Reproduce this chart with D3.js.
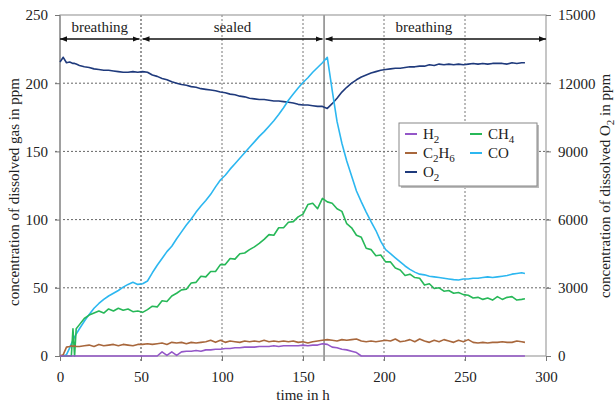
<!DOCTYPE html>
<html><head><meta charset="utf-8">
<script src="https://cdn.jsdelivr.net/npm/d3@7"></script>
<style>
body{margin:0;background:#fff}
svg{display:block}
text{font-family:"Liberation Serif","Times New Roman","DejaVu Serif",serif;fill:#222}
</style>
</head><body>
<svg id="c" width="616" height="406"></svg>
<script>
// ---------- data ----------
const hours = [0,2,4,6,7,8,9,10,
  12,15,18,21,24,27,30,33,36,39,
  42,45,48,51,54,57,60,63,66,69,
  72,75,78,81,84,87,90,93,96,99,
  102,105,108,111,114,117,120,123,126,129,
  132,135,138,141,144,147,150,153,156,159,
  162,165,168,171,174,177,180,183,186,189,
  192,195,198,201,204,207,210,213,216,219,
  222,225,228,231,234,237,240,243,246,249,
  252,255,258,261,264,267,270,273,276,279,
  282,285,287];

const co = [0,0,1,6,9,11.5,14,16,
  20,25.5,30.5,35,38.5,41.5,44,46,48,50.5,
  52.5,54,52.5,53,55,61,66.5,71.5,76.5,80.5,
  86,91,96,100.5,105.5,110,114,118.5,124,129,
  132.5,137,141,145,149,153,157,161,164.5,168.5,
  172.5,177,182,187.5,192,196.5,200.5,204,208,211.5,
  215,219,195,172,156,143,132,121,113,105.5,
  98.5,92,84,78,75,72,69,66,63.5,61.5,
  60,59.5,58.5,58,57.5,57,56.5,56,55.7,56.5,
  56.5,57,57,57.5,58,57.5,58,58.5,59,60,
  60.5,61,60.5];

const ch4 = [0,0,0,0,0,20,0,20,
  23,27.5,30,31.5,33,31.5,34.5,33,35,33.5,
  34.5,32.5,33,32,34,36.5,36,40.5,40,44,
  46,48.5,49,53.5,54,58.5,58,62,62,67,
  67,71.5,71,75,75.5,78,80,82.5,85.5,89,
  88.5,94,94,98,98.5,102,104,111,112,108,
  115.5,113,112,108,106,97,94,88.5,87,79,
  78,73.5,74,69,69,64.5,63,59,60,57.5,
  57,52,53,49.5,50,47.5,48,46,46.5,45,
  44.5,42.5,43,41.5,42.5,41,43.5,41.5,43,43.5,
  41,41.5,42];

const c2h6 = [0,1,6.5,7,7.5,7,7.5,7,
  7,7.5,8,7,8.5,7.5,8,8.5,7.5,8.5,
  8,7.5,8.5,8.5,9,8.5,9,9.5,8.5,10,
  9.5,10,9,10,9.5,10,10.5,11.5,10,11.5,
  10,11,10.5,10,11,10.5,11,10.5,11.5,10.5,
  11,10.5,11,10.5,11,10,10.5,9.5,10.5,11,
  11.5,12,11.5,11,12,11.5,12,12.5,11,10.5,
  11,10.5,11,11.5,11,12.5,10.5,11,12,10.5,
  12.5,11,10,11.5,10.5,12,11,10,11.5,10.5,
  12,10,9.5,10,9.5,10,10,10.5,10,10,
  11,10.5,10];

const h2 = [0,0,0,0,0,0,0,0,
  0,0,0,0,0,0,0,0,0,0,
  0,0,0,0,0,0,0,3,0.5,3,
  0.5,3,3.5,3.5,4,3.5,4.5,4.5,5,5,
  5.5,5.5,6,6,6.5,6.5,6.5,7,7,7,
  7.5,7,7.5,7.5,7.5,7.5,8,7.5,8,8,
  9,8.5,6.5,6,5,4.5,3.5,2.5,0,0,
  0,0,0,0,0,0,0,0,0,0,
  0,0,0,0,0,0,0,0,0,0,
  0,0,0,0,0,0,0,0,0,0,
  0,0,0];

const o2 = [12930,13140,12900,12930,12900,12870,12870,12840,
  12780,12720,12690,12630,12600,12570,12570,12540,12510,12480,
  12480,12510,12480,12510,12480,12360,12300,12210,12150,12060,
  12000,11940,11910,11850,11820,11760,11730,11700,11670,11610,
  11580,11520,11490,11430,11400,11340,11310,11280,11280,11250,
  11220,11220,11190,11160,11130,11070,11040,11040,11010,10980,
  10980,10890,11100,11340,11610,11820,12000,12150,12270,12360,
  12450,12510,12570,12600,12630,12660,12660,12690,12720,12720,
  12750,12750,12810,12780,12840,12810,12840,12810,12840,12810,
  12840,12870,12840,12870,12840,12870,12870,12870,12840,12900,
  12870,12900,12900];

const xTicks = [0,50,100,150,200,250,300];
const yTicks = [0,50,100,150,200,250];
const yRightTicks = [0,3000,6000,9000,12000,15000];
const phases = [
  {label:"breathing", from:0, to:50},
  {label:"sealed", from:50, to:163},
  {label:"breathing", from:163, to:300}
];

// ---------- chart ----------
const FONT = '"Liberation Serif","Times New Roman","DejaVu Serif",serif';
const svg = d3.select("#c");
const L=60, R=546, T=15, B=356;
const x = d3.scaleLinear().domain([0,300]).range([L,R]);
const y = d3.scaleLinear().domain([0,250]).range([B,T]);
const yR = d3.scaleLinear().domain([0,15000]).range([B,T]);

// gridlines
const grid = svg.append("g");
grid.selectAll("line.h").data(yTicks.filter(d=>d>0 && d<250)).enter().append("line")
  .attr("x1",L-5).attr("x2",R+5).attr("y1",d=>y(d)).attr("y2",d=>y(d))
  .attr("stroke","#666").attr("stroke-width",1).attr("stroke-dasharray","2,2");
grid.selectAll("line.v").data(xTicks.filter(d=>d>0 && d<300)).enter().append("line")
  .attr("x1",d=>x(d)).attr("x2",d=>x(d)).attr("y1",T).attr("y2",B+5)
  .attr("stroke",d=>d===50?"#333":"#777").attr("stroke-width",1).attr("stroke-dasharray","2,2");
grid.append("line").attr("x1",x(phases[1].to)).attr("x2",x(phases[1].to))
  .attr("y1",T).attr("y2",B+5).attr("stroke","#666").attr("stroke-width",1.2);

// frame
svg.append("rect").attr("x",L).attr("y",T).attr("width",R-L).attr("height",B-T)
  .attr("fill","none").attr("stroke","#a0a0a0").attr("stroke-width",1.2);
svg.append("line").attr("x1",L).attr("x2",L).attr("y1",T).attr("y2",B)
  .attr("stroke","#a0a0a0").attr("stroke-width",2);

// axes
function styleAxis(g){
  g.attr("font-family",FONT);
  g.select(".domain").remove();
  g.selectAll(".tick line").attr("stroke","#777");
  g.selectAll(".tick text").style("font-size","15px").attr("fill","#222");
}
svg.append("g").attr("transform",`translate(0,${B})`)
  .call(d3.axisBottom(x).tickValues(xTicks).tickSize(5).tickPadding(10)).call(styleAxis);
svg.append("g").attr("transform",`translate(${L},0)`)
  .call(d3.axisLeft(y).tickValues(yTicks).tickSize(5).tickPadding(7)).call(styleAxis);
svg.append("g").attr("transform",`translate(${R},0)`)
  .call(d3.axisRight(yR).tickValues(yRightTicks).tickFormat(d3.format("d")).tickSize(5).tickPadding(7)).call(styleAxis);

// axis titles
svg.append("text").attr("x",303).attr("y",400).attr("text-anchor","middle")
  .attr("font-family",FONT).style("font-size","15px").text("time in h");
svg.append("text").attr("transform","translate(19,192) rotate(-90)").attr("text-anchor","middle")
  .attr("font-family",FONT).style("font-size","15px").text("concentration of dissolved gas in ppm");
const rt = svg.append("text").attr("transform","translate(610,186) rotate(-90)").attr("text-anchor","middle")
  .attr("font-family",FONT).style("font-size","15px");
rt.append("tspan").text("concentration of dissolved O");
rt.append("tspan").attr("dy",4).style("font-size","11px").text("2");
rt.append("tspan").attr("dy",-4).text(" in ppm");

// series
const series = [
  {name:"O2", vals:o2, sc:yR, color:"#1f3a7c"},
  {name:"CO", vals:co, sc:y, color:"#2cb7f0"},
  {name:"CH4", vals:ch4, sc:y, color:"#27b858"},
  {name:"C2H6", vals:c2h6, sc:y, color:"#a8673c"},
  {name:"H2", vals:h2, sc:y, color:"#9457c8"}
];
series.forEach(s=>{
  const line = d3.line().x(d=>x(d[0])).y(d=>s.sc(d[1]));
  svg.append("path").datum(hours.map((t,i)=>[t,s.vals[i]]))
    .attr("d",line).attr("fill","none").attr("stroke",s.color)
    .attr("stroke-width",1.6).attr("stroke-linejoin","round");
});

// phase arrows
const defs = svg.append("defs");
defs.append("marker").attr("id","ah").attr("viewBox","0 0 10 10").attr("refX",10).attr("refY",5)
  .attr("markerWidth",7).attr("markerHeight",7).attr("markerUnits","userSpaceOnUse")
  .attr("orient","auto-start-reverse")
  .append("path").attr("d","M0,1 L10,5 L0,9 Z").attr("fill","#111");
const ay = 39;
phases.forEach((p,i)=>{
  const x1 = x(p.from)+ (i===0?0:1.5), x2 = x(p.to) - (i===2?0:1.5);
  svg.append("line").attr("x1",x1).attr("x2",x2).attr("y1",ay).attr("y2",ay)
    .attr("stroke","#111").attr("stroke-width",1.3)
    .attr("marker-start","url(#ah)").attr("marker-end","url(#ah)");
  const cx = i===2 ? x(p.from) + (x(p.to)-x(p.from))*0.45 : (x1+x2)/2;
  svg.append("text").attr("x",cx).attr("y",32).attr("text-anchor","middle")
    .attr("font-family",FONT).style("font-size","15px").text(p.label);
});

// legend
const lg = svg.append("g");
lg.append("rect").attr("x",401).attr("y",125).attr("width",138).attr("height",63).attr("fill","#bbb");
lg.append("rect").attr("x",399).attr("y",123).attr("width",138).attr("height",63)
  .attr("fill","#fff").attr("stroke","#888").attr("stroke-width",1);
const legItems = [
  {base:"H", sub:"2", color:"#9457c8", lx:405, ly:134},
  {base:"CH", sub:"4", color:"#27b858", lx:470, ly:134},
  {base:"C", sub:"2", mid:"H", sub2:"6", color:"#a8673c", lx:405, ly:153},
  {base:"CO", sub:"", color:"#2cb7f0", lx:470, ly:153},
  {base:"O", sub:"2", color:"#1f3a7c", lx:405, ly:172}
];
legItems.forEach(it=>{
  lg.append("line").attr("x1",it.lx).attr("x2",it.lx+12).attr("y1",it.ly).attr("y2",it.ly)
    .attr("stroke",it.color).attr("stroke-width",2);
  const t = lg.append("text").attr("x",it.lx+18).attr("y",it.ly+5)
    .attr("font-family",FONT).style("font-size","15px");
  t.append("tspan").text(it.base);
  if(it.sub) t.append("tspan").attr("dy",4).style("font-size","11px").text(it.sub);
  if(it.mid){
    t.append("tspan").attr("dy",-4).text(it.mid);
    t.append("tspan").attr("dy",4).style("font-size","11px").text(it.sub2);
  }
});
</script>
</body></html>
